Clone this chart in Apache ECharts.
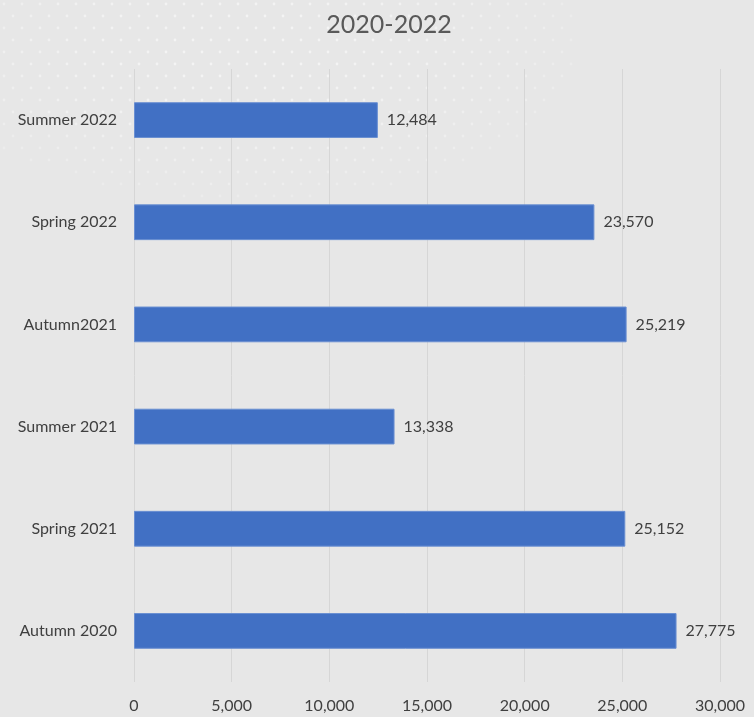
<!DOCTYPE html>
<html><head><meta charset="utf-8">
<script src="https://cdn.jsdelivr.net/npm/echarts@6/dist/echarts.min.js"></script>
<style>html,body{margin:0;padding:0;background:#e7e7e7;}#c{width:754px;height:717px;}</style>
</head><body><div id="c"></div>
<script>
const categories = ['Autumn 2020', 'Spring 2021', 'Summer 2021', 'Autumn2021', 'Spring 2022', 'Summer 2022'];
const values = [27775, 25152, 13338, 25219, 23570, 12484];
const xTicks = [0, 5000, 10000, 15000, 20000, 25000, 30000];

// decorative dotted background texture (top-left)
function makeDots() {
  const cv = document.createElement('canvas');
  cv.width = 600; cv.height = 200;
  const ctx = cv.getContext('2d');
  for (let r = 0; r * 12 < 200; r++) {
    for (let c = 0; c * 18 < 600; c++) {
      const x = c * 18 + (r % 2 ? 9 : 0) + 4, y = r * 12 + 4;
      const dx = (x - 250) / 330, dy = (y - 50) / 150;
      const d = Math.sqrt(dx * dx + dy * dy);
      if (d > 1) continue;
      const a = 0.55 * (1 - d * d * 0.6);
      ctx.fillStyle = 'rgba(255,255,255,' + a.toFixed(3) + ')';
      ctx.beginPath(); ctx.arc(x, y, 1.4, 0, Math.PI * 2); ctx.fill();
    }
  }
  return cv;
}

const chart = echarts.init(document.getElementById('c'));
const fmt = v => v.toLocaleString('en-US');
chart.setOption({
  backgroundColor: '#e7e7e7',
  animation: false,
  graphic: [{ type: 'image', left: 0, top: 0, z: -10, silent: true, style: { image: makeDots(), width: 600, height: 200 } }],
  title: {
    text: '2020-2022', left: 384, top: 7, textAlign: 'center',
    textStyle: { fontFamily: 'Lato', fontSize: 25, fontWeight: 'normal', color: '#595959' }
  },
  grid: { left: 134, right: 34, top: 69, bottom: 35, containLabel: false },
  xAxis: {
    type: 'value', min: xTicks[0], max: xTicks[xTicks.length - 1], interval: 5000,
    axisLine: { show: false }, axisTick: { show: false },
    splitLine: { lineStyle: { color: '#d6d6d6', width: 1 } },
    axisLabel: { formatter: fmt, fontFamily: 'Lato', fontSize: 16, color: '#404040', margin: 16 }
  },
  yAxis: {
    type: 'category', data: categories,
    axisLine: { show: false }, axisTick: { show: false },
    axisLabel: { fontFamily: 'Lato', fontSize: 16, color: '#404040', margin: 17 }
  },
  series: [{
    type: 'bar', data: values, barWidth: '35%',
    itemStyle: { color: '#4170c4', borderColor: '#6a8fd2', borderWidth: 1 },
    label: { show: true, position: 'right', distance: 9, formatter: p => fmt(p.value),
      fontFamily: 'Lato', fontSize: 16, color: '#404040' }
  }]
});
</script></body></html>
